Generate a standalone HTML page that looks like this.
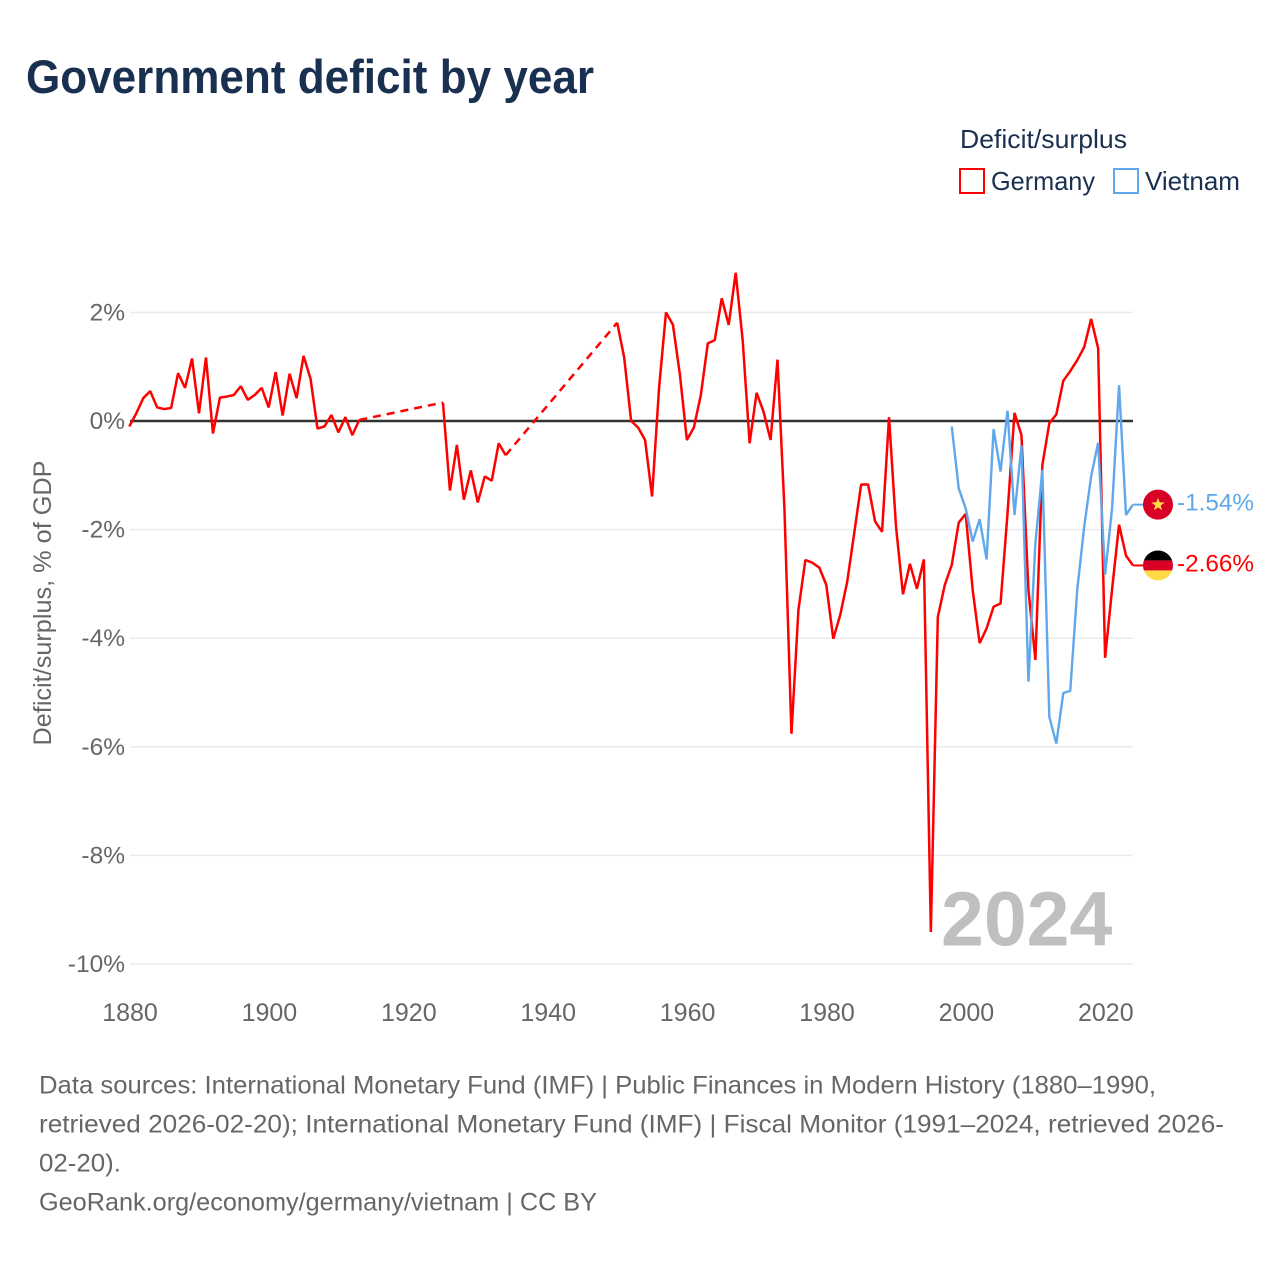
<!DOCTYPE html>
<html lang="en">
<head>
<meta charset="utf-8">
<title>Government deficit by year</title>
<style>
html,body{margin:0;padding:0;background:#fff;}
svg{display:block;font-family:"Liberation Sans",sans-serif;}
</style>
</head>
<body>
<svg id="chart" xmlns="http://www.w3.org/2000/svg" width="1280" height="1280" viewBox="0 0 1280 1280">
  <rect width="1280" height="1280" fill="#fff"/>
  <text x="26" y="93" font-size="47" font-weight="700" fill="#1a3050" textLength="568" lengthAdjust="spacingAndGlyphs">Government deficit by year</text>

  <g>
    <text x="960" y="148" font-size="26" fill="#1a3050" textLength="167" lengthAdjust="spacingAndGlyphs">Deficit/surplus</text>
    <rect x="960" y="169" width="24" height="24" fill="none" stroke="#ff0000" stroke-width="2"/>
    <text x="991" y="190" font-size="26" fill="#1a3050" textLength="104" lengthAdjust="spacingAndGlyphs">Germany</text>
    <rect x="1114" y="169" width="24" height="24" fill="none" stroke="#5fa8ec" stroke-width="2"/>
    <text x="1145" y="190" font-size="26" fill="#1a3050" textLength="95" lengthAdjust="spacingAndGlyphs">Vietnam</text>
  </g>

  <text transform="translate(51,603) rotate(-90)" text-anchor="middle" font-size="25" fill="#666" textLength="285" lengthAdjust="spacingAndGlyphs">Deficit/surplus, % of GDP</text>

  <text x="941" y="945.5" font-size="77" font-weight="700" fill="#bfbfbf">2024</text>

  <g id="grid"></g>
  <g id="yticks"></g>
  <g id="xticks"></g>
  <g id="series"></g>
  <g id="ends"></g>

  <g font-size="25" fill="#666">
    <text x="39" y="1093.5" textLength="1117" lengthAdjust="spacingAndGlyphs">Data sources: International Monetary Fund (IMF) | Public Finances in Modern History (1880–1990,</text>
    <text x="39" y="1132.5" textLength="1185" lengthAdjust="spacingAndGlyphs">retrieved 2026-02-20); International Monetary Fund (IMF) | Fiscal Monitor (1991–2024, retrieved 2026-</text>
    <text x="39" y="1171.5" textLength="82" lengthAdjust="spacingAndGlyphs">02-20).</text>
    <text x="39" y="1210.5" textLength="558" lengthAdjust="spacingAndGlyphs">GeoRank.org/economy/germany/vietnam | CC BY</text>
  </g>
</svg>
<script>
const yTickValues = [2, 0, -2, -4, -6, -8, -10];
const xTickYears = [1880, 1900, 1920, 1940, 1960, 1980, 2000, 2020];
const germanyStartYear = 1880;
const germanyValues = [
  -0.10, 0.14, 0.42, 0.55, 0.25, 0.22, 0.24, 0.88, 0.61, 1.15,
  0.14, 1.17, -0.23, 0.43, 0.45, 0.48, 0.64, 0.39, 0.48, 0.61,
  0.25, 0.90, 0.10, 0.87, 0.42, 1.20, 0.78, -0.14, -0.10, 0.11,
  -0.21, 0.07, -0.26, 0.02, null, null, null, null, null, null,
  null, null, null, null, null, 0.34, -1.28, -0.44, -1.45, -0.91,
  -1.50, -1.02, -1.10, -0.41, -0.63, null, null, null, null, null,
  null, null, null, null, null, null, null, null, null, null,
  1.81, 1.17, 0.00, -0.12, -0.35, -1.39, 0.60, 2.00, 1.77, 0.85,
  -0.35, -0.12, 0.48, 1.43, 1.49, 2.26, 1.77, 2.73, 1.49, -0.41,
  0.52, 0.17, -0.35, 1.13, -1.64, -5.76, -3.48, -2.56, -2.61, -2.70,
  -3.02, -4.01, -3.57, -2.96, -2.07, -1.17, -1.17, -1.85, -2.04, 0.07,
  -1.94, -3.19, -2.63, -3.09, -2.55, -9.41, -3.61, -3.02, -2.65, -1.87,
  -1.71, -3.11, -4.09, -3.82, -3.42, -3.36, -1.70, 0.15, -0.26, -3.11,
  -4.40, -0.81, -0.04, 0.12, 0.74, 0.92, 1.12, 1.36, 1.88, 1.34,
  -4.36, -3.10, -1.91, -2.48, -2.66
];
const vietnamStartYear = 1998;
const vietnamValues = [
  -0.10, -1.24, -1.61, -2.22, -1.81, -2.55, -0.15, -0.93, 0.19, -1.73,
  -0.45, -4.80, -2.25, -0.90, -5.45, -5.94, -5.01, -4.97, -3.11, -1.95,
  -1.02, -0.40, -2.83, -1.61, 0.66, -1.73, -1.54
];
const germanyLabel = "-2.66%";
const vietnamLabel = "-1.54%";

const NS = "http://www.w3.org/2000/svg";
const X0 = 129.3, XPY = 6.97, Y0 = 421, YPU = 54.3;
function xScale(year) { return X0 + (year - 1880) * XPY; }
function yScale(value) { return Y0 - value * YPU; }
function make(tag, attrs, parent) {
  const el = document.createElementNS(NS, tag);
  for (const k in attrs) el.setAttribute(k, attrs[k]);
  parent.appendChild(el);
  return el;
}

const gridG = document.getElementById("grid");
const yG = document.getElementById("yticks");
const xG = document.getElementById("xticks");
const seriesG = document.getElementById("series");
const endsG = document.getElementById("ends");

yTickValues.forEach(function (v) {
  const line = make("line", {
    x1: 130, x2: 1133, y1: yScale(v), y2: yScale(v),
    stroke: "#ebebeb", "stroke-width": 1.5
  }, gridG);
  
  
  const t = make("text", {
    x: 125, y: yScale(v) + 8, "text-anchor": "end", "font-size": 24.5, fill: "#666"
  }, yG);
  t.textContent = v + "%";
  
  
});

xTickYears.forEach(function (yr) {
  const t = make("text", {
    x: xScale(yr) + 0.7, y: 1021, "text-anchor": "middle", "font-size": 25, fill: "#666"
  }, xG);
  t.textContent = String(yr);
  
  
});

function drawSeries(values, startYear, color, width, name) {
  const g = make("g", {}, seriesG);
  
  
  let run = [];
  let last = null;
  function flush() {
    if (run.length > 1) {
      const solid = make("polyline", {
        points: run.join(" "), fill: "none", stroke: color,
        "stroke-width": width, "stroke-linejoin": "bevel"
      }, g);
      
      
    }
    run = [];
  }
  values.forEach(function (v, i) {
    if (v === null) { flush(); return; }
    const px = xScale(startYear + i), py = yScale(v);
    if (last && last.i !== i - 1) {
      const gap = make("line", {
        x1: last.x, y1: last.y, x2: px, y2: py, stroke: color,
        "stroke-width": width, "stroke-dasharray": "8 6"
      }, g);
      
      
    }
    run.push(px.toFixed(2) + "," + py.toFixed(2));
    last = { i: i, x: px, y: py };
  });
  flush();
}

function drawEnd(values, startYear, color, text, name) {
  const v = values[values.length - 1];
  const px = xScale(startYear + values.length - 1), py = yScale(v);
  const link = make("line", { x1: px, x2: 1145, y1: py, y2: py, stroke: color, "stroke-width": 2 }, endsG);
  
  
  const cx = 1158;
  if (name === "germany") {
    const defs = make("defs", {}, endsG);
    const clip = make("clipPath", { id: "flagClipDe" }, defs);
    make("circle", { cx: cx, cy: py, r: 15 }, clip);
    const f = make("g", { "clip-path": "url(#flagClipDe)" }, endsG);
    
    
    make("rect", { x: cx - 15, y: py - 15, width: 30, height: 10, fill: "#000" }, f);
    make("rect", { x: cx - 15, y: py - 5, width: 30, height: 10, fill: "#d80027" }, f);
    make("rect", { x: cx - 15, y: py + 5, width: 30, height: 10, fill: "#ffda44" }, f);
  } else {
    const f = make("g", {}, endsG);
    
    
    make("circle", { cx: cx, cy: py, r: 15, fill: "#d80027" }, f);
    const pts = [];
    for (let k = 0; k < 10; k++) {
      const r = k % 2 ? 2.9 : 7, a = -Math.PI / 2 + k * Math.PI / 5;
      pts.push((cx + r * Math.cos(a)).toFixed(2) + "," + (py + r * Math.sin(a)).toFixed(2));
    }
    make("polygon", { points: pts.join(" "), fill: "#ffda44" }, f);
  }
  const t = make("text", { x: 1177, y: py + 6, "font-size": 24.5, fill: color, textLength: 77, lengthAdjust: "spacingAndGlyphs" }, endsG);
  t.textContent = text;
  
  
}

drawSeries(germanyValues, germanyStartYear, "#ff0000", 2.5, "germany-series");
const zeroLine = make("line", { x1: 130, x2: 1133, y1: yScale(0), y2: yScale(0), stroke: "#333", "stroke-width": 2.4 }, seriesG);


seriesG.insertBefore(zeroLine, seriesG.firstChild);
drawSeries(vietnamValues, vietnamStartYear, "#5fa8ec", 2.4, "vietnam-series");
drawEnd(vietnamValues, vietnamStartYear, "#5fa8ec", vietnamLabel, "vietnam");
drawEnd(germanyValues, germanyStartYear, "#ff0000", germanyLabel, "germany");
</script>
</body>
</html>
